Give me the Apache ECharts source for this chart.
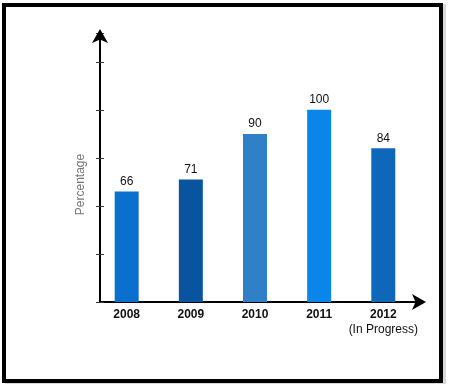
<!DOCTYPE html>
<html>
<head>
<meta charset="utf-8">
<script src="https://cdn.jsdelivr.net/npm/echarts@6/dist/echarts.min.js"></script>
<style>
html,body{margin:0;padding:0;background:#fff;}
#frame{position:absolute;left:2px;top:3px;width:441px;height:380px;border:4px solid #000;box-sizing:border-box;box-shadow:3px 1px 0 #d8d8d8;}
#chart{position:absolute;left:0;top:0;width:455px;height:385px;}
</style>
</head>
<body>
<div id="frame"></div>
<div id="chart"></div>
<script>
var categories = ['2008', '2009', '2010', '2011', '2012\n(In Progress)'];
var values = [66, 71, 90, 100, 84];
var barColors = ['#0b6fcf', '#08549f', '#2f80c6', '#0a85ea', '#0e67b8'];
var yName = 'Percentage';

var chart = echarts.init(document.getElementById('chart'));
var data = values.map(function (v, i) {
  return { value: [i, v], itemStyle: { color: barColors[i] } };
});
var option = {
  animation: false,
  grid: { left: 100, top: 33, width: 320, height: 269 },
  xAxis: {
    type: 'value',
    min: -0.416,
    max: 4.572,
    splitLine: { show: false },
    axisLine: { show: true, onZero: false, lineStyle: { color: '#000', width: 2 }, symbol: ['none', 'arrow'], symbolSize: [12, 14], symbolOffset: [0, 6] },
    axisTick: { show: false },
    axisLabel: {
      customValues: [0, 1, 2, 3, 4],
      formatter: function (v) {
        var lbl = categories[Math.round(v)];
        var parts = lbl.split('\n');
        return parts.length > 1 ? '{b|' + parts[0] + '}\n{r|' + parts[1] + '}' : '{b|' + parts[0] + '}';
      },
      margin: 5,
      rich: {
        b: { fontFamily: 'Liberation Sans, Arial', fontSize: 12, fontWeight: 'bold', color: '#111', lineHeight: 15 },
        r: { fontFamily: 'Liberation Sans, Arial', fontSize: 12, color: '#111', lineHeight: 15 }
      }
    }
  },
  yAxis: [{
    type: 'value',
    min: 20,
    max: 132,
    interval: 20,
    name: yName,
    nameLocation: 'middle',
    nameGap: 13,
    nameRotate: 90,
    nameTextStyle: { fontFamily: 'Liberation Sans, Arial', fontSize: 12, color: '#777', padding: [0, 34, 0, 0] },
    splitLine: { show: false },
    axisLine: { show: true, onZero: false, lineStyle: { color: '#000', width: 2 }, symbol: ['none', 'arrow'], symbolSize: [12, 14], symbolOffset: [0, 4] },
    axisTick: { show: true, length: 4, lineStyle: { color: '#333', width: 1 } },
    axisLabel: { show: false }
  }, {
    type: 'value',
    position: 'left',
    offset: 0,
    min: 20,
    max: 132,
    interval: 20,
    splitLine: { show: false },
    axisLine: { show: false, onZero: false },
    axisTick: { show: true, inside: true, length: 4, lineStyle: { color: '#333', width: 1 } },
    axisLabel: { show: false }
  }],
  series: [{
    type: 'bar',
    data: data,
    barWidth: 24,
    label: {
      show: true,
      position: 'top',
      distance: 4,
      formatter: function (p) { return p.value[1]; },
      fontFamily: 'Liberation Sans, Arial',
      fontSize: 12,
      color: '#111'
    }
  }]
};
chart.setOption(option);
</script>
</body>
</html>
